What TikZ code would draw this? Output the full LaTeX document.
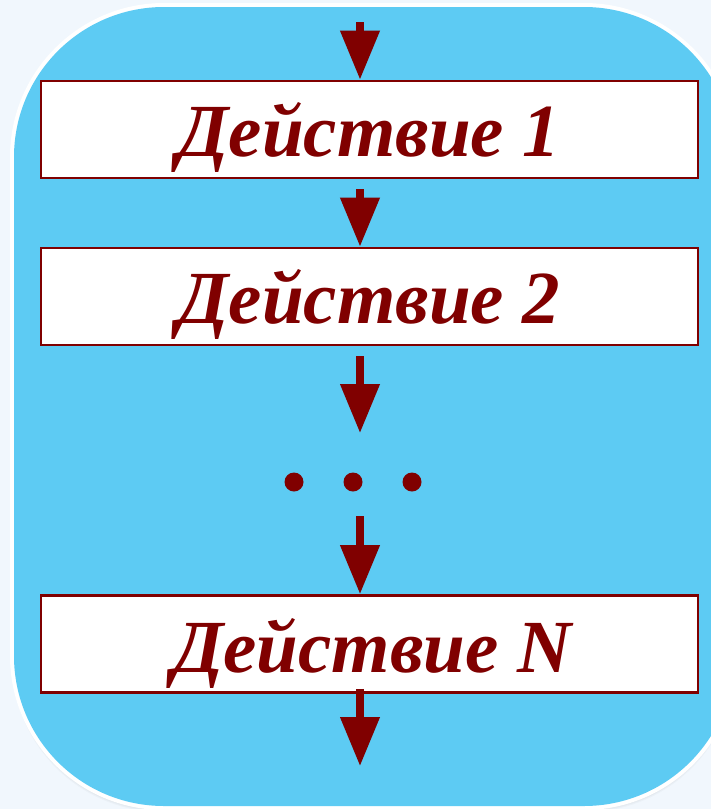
\documentclass[tikz,border=0pt]{standalone}
\usepackage{fontspec}
\setmainfont{Liberation Serif}
\usetikzlibrary{arrows.meta,calc}
\definecolor{bg}{HTML}{F1F7FD}
\definecolor{panel}{HTML}{5DCBF3}
\definecolor{dred}{HTML}{800000}
\tikzset{
  stepbox/.style={draw=dred, line width=2.8pt, fill=white, minimum width=657pt, minimum height=97pt, inner sep=0pt},
  lbl/.style={text=dred, font=\fontsize{75}{90}\selectfont\bfseries\itshape, anchor=base, inner sep=0pt},
  arr/.style={draw=dred, line width=7.5pt, -{Triangle[width=38pt,length=49pt]}},
  dotn/.style={circle, fill=dred, minimum size=19pt, inner sep=0pt},
}
\begin{document}
\begin{tikzpicture}[x=1pt,y=-1pt]
\useasboundingbox (0,0) rectangle (711,809);
\clip (0,0) rectangle (711,809);
\fill[bg] (0,0) rectangle (711,809);
% soft shadow
\foreach \o in {1,2,3,4,5,6}{
  \fill[black, opacity=0.025, rounded corners=150pt] (14-\o*0.3,7+\o) rectangle (734+\o*0.3,806+\o);
}
\fill[white, rounded corners=154pt] (10,3) rectangle (738,810);
\fill[panel, rounded corners=150pt] (14,7) rectangle (734,806);
% boxes
\node[stepbox] (b1) at (369.5,129.5) {};
\node[stepbox] (b2) at (369.5,296.5) {};
\node[stepbox] (b3) at (369.5,644) {};
\node[lbl] (t1) at (369,156) {Действие 1};
\node[lbl] (t2) at (369,323) {Действие 2};
\node[lbl] (t3) at (372,672) {Действие N};
% dots
\node[dotn] (d1) at (294,482) {};
\node[dotn] (d2) at (353,482) {};
\node[dotn] (d3) at (412,482) {};
% arrows
\coordinate (c0) at (360,22);
\coordinate (c3) at (360,433);
\coordinate (c4) at (360,516);
\coordinate (c5) at (360,766);
\draw[arr] (c0) -- (c0 |- b1.north);
\draw[arr] ($(c0 |- b1.south)+(0,10)$) -- (c0 |- b2.north);
\draw[arr] ($(c0 |- b2.south)+(0,10)$) -- (c3);
\draw[arr] (c4) -- (c0 |- b3.north);
\draw[arr] ($(c0 |- b3.south)+(0,-5)$) -- (c5);
\end{tikzpicture}
\end{document}
